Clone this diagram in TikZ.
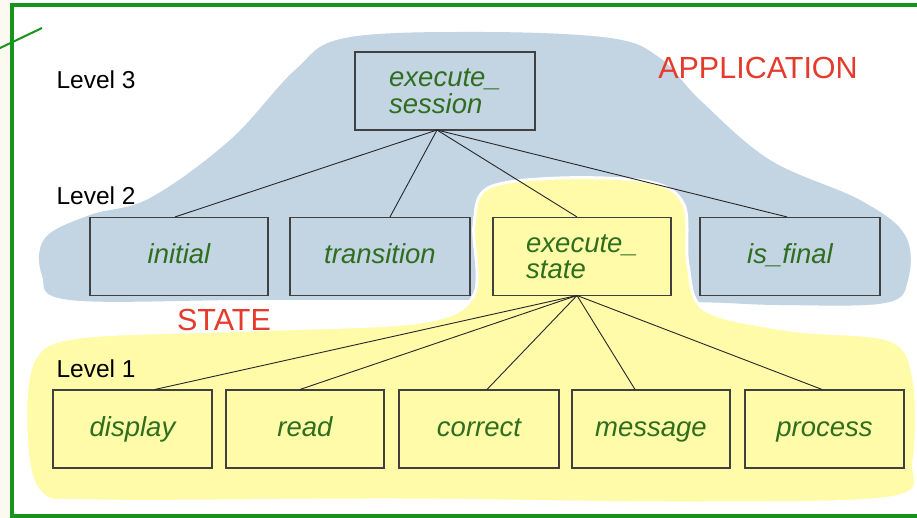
\documentclass[tikz,border=0pt]{standalone}
\usepackage{fontspec}
\setmainfont{Liberation Sans}
\begin{document}
\begin{tikzpicture}[x=1pt,y=-1pt,
  mod/.style={draw=black!75, line width=1.1pt, minimum width=#1, minimum height=78pt,
    inner sep=0pt, font=\fontsize{27.5}{26.5}\selectfont\itshape, text=modgreen, align=left},
  mod/.default=178pt,
  one/.style={text height=20pt, text depth=6pt},
  lvl/.style={font=\fontsize{24.5}{26}\selectfont, anchor=west},
  tag/.style={font=\fontsize{30.5}{32}\selectfont, text=tagred},
  link/.style={draw=black!85, line width=0.9pt}]
\definecolor{modgreen}{HTML}{2F6E1F}
\definecolor{tagred}{HTML}{E53A2C}
\definecolor{appblue}{HTML}{C3D4E3}
\definecolor{stateyellow}{HTML}{FFFBA8}
\definecolor{framegreen}{HTML}{16951C}
\definecolor{margin}{HTML}{FCFAF0}

\useasboundingbox (0,0) rectangle (917,518);
\fill[white] (0,0) rectangle (917,518);
\fill[margin] (0,0) rectangle (11,518);

% APPLICATION region
\fill[appblue] plot[smooth cycle, tension=0.6] coordinates {
  (345,38) (480,32) (610,38) (660,58) (700,100) (770,160) (860,200)
  (905,235) (908,280) (885,303) (780,305) (690,302) (480,300) (250,300)
  (70,300) (42,275) (45,238) (90,215) (150,198) (230,140) (295,70)};

% STATE region
\fill[stateyellow, draw=white, line width=3pt] plot[smooth cycle, tension=0.55] coordinates {
  (488,188) (560,178) (650,182) (684,205) (688,265) (705,310) (790,330)
  (890,340) (914,380) (914,460) (895,497) (700,503) (400,500) (100,501)
  (40,492) (26,430) (34,360) (80,337) (250,330) (420,322) (474,295) (474,225)};

% labels
\node[lvl] (l3) at (53,80) {Level 3};
\node[lvl] (l2) at (53,196) {Level 2};
\node[lvl] (l1) at (53,369) {Level 1};
\node[tag] (app) at (758,68) {APPLICATION};
\node[tag] (st) at (224,320) {STATE};

% modules
\node[mod=180pt] (sess) at (445,91) {execute\_\\session};
\node[mod, one] (init) at (179,256.5) {initial};
\node[mod=180pt, one] (trans) at (380,256.5) {transition};
\node[mod] (exst) at (582,256.5) {execute\_\\state};
\node[mod=180pt, one] (fin) at (790,256.5) {is\_final};
\node[mod=159pt, one] (disp) at (132.5,429) {display};
\node[mod=158pt, one] (rd) at (305,429) {read};
\node[mod=160pt, one] (corr) at (479,429) {correct};
\node[mod=158pt, one] (msg) at (651,429) {message};
\node[mod=159pt, one] (proc) at (824.5,429) {process};

% calls
\coordinate (sb) at (437,130);
\coordinate (eb) at (577,295.5);
\foreach \t/\x in {init/175, trans/390, exst/577, fin/787}
  \draw[link] (sb) -- (\t.north -| \x,0);
\foreach \t/\x in {disp/155, rd/300, corr/487, msg/635, proc/822}
  \draw[link] (eb) -- (\t.north -| \x,0);

% frame
\draw[framegreen, line width=4pt] (12,520) -- (12,5.5) -- (920,5.5);
\draw[framegreen, line width=4pt] (12,515.5) -- (920,515.5);
\draw[framegreen, line width=2pt] (-2,49) -- (42,28);
\end{tikzpicture}
\end{document}
